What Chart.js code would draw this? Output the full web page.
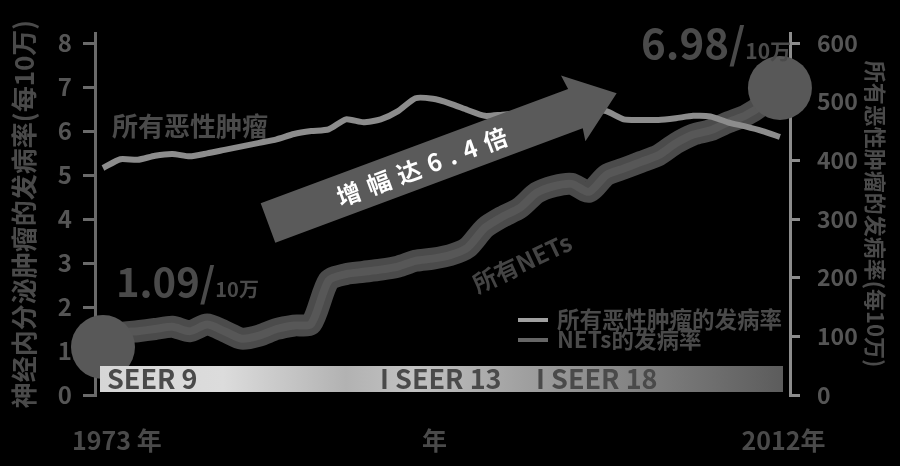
<!DOCTYPE html>
<html>
<head>
<meta charset="utf-8">
<script src="https://cdn.jsdelivr.net/npm/chart.js@4.4.1/dist/chart.umd.min.js"></script>
<style>
  html, body { margin: 0; padding: 0; background: #000; }
  #wrap { width: 900px; height: 466px; position: relative; }
</style>
</head>
<body>
<div id="wrap"><canvas id="chart"></canvas></div>
<script>
// Data
const years = [1973, 1974, 1975, 1976, 1977, 1978, 1979, 1980, 1981, 1982,
               1983, 1984, 1985, 1986, 1987, 1988, 1989, 1990, 1991, 1992,
               1993, 1994, 1995, 1996, 1997, 1998, 1999, 2000, 2001, 2002,
               2003, 2004, 2005, 2006, 2007, 2008, 2009, 2010, 2011, 2012];

// all malignant tumours, per 100k (right axis)
const malignantRate = [387, 402, 401, 408, 411, 407, 412, 418, 424, 430,
                       436, 445, 450, 453, 470, 465, 470, 484, 506, 505,
                       497, 486, 476, 478, 480, 482, 484, 486, 487, 484,
                       470, 469, 469, 472, 476, 475, 465, 458, 450, 440];

// NETs, per 100k (left axis)
const netsRate = [1.09, 1.40, 1.45, 1.50, 1.55, 1.45, 1.60, 1.45, 1.28, 1.35,
                  1.50, 1.58, 1.62, 2.60, 2.75, 2.80, 2.85, 2.92, 3.05, 3.10,
                  3.18, 3.35, 3.80, 4.05, 4.25, 4.60, 4.75, 4.80, 4.62, 5.00,
                  5.15, 5.30, 5.45, 5.72, 5.92, 6.02, 6.20, 6.35, 6.60, 6.98];

const leftTicks = [0, 1, 2, 3, 4, 5, 6, 7, 8];
const rightTicks = [0, 100, 200, 300, 400, 500, 600];
const xTickYears = [1973.8, 1992.1, 2012.2];
const xTickLabels = ["1973 年", "年", "2012年"];
const seerLabels = ["SEER 9", "I SEER 13", "I SEER 18"];
const legendLabels = ["所有恶性肿瘤的发病率", "NETs的发病率"];

const FONT = '"Noto Sans CJK SC", "Noto Sans", sans-serif';
const TEXT_GRAY = "#4a4a4a";

// markers only on first and last year
const endPointRadius = years.map((y, i) => (i === 0 || i === years.length - 1) ? 32 : 0);

const fixWidth = (w) => (scale) => { scale.width = w; };
const useTicks = (list) => (scale) => { scale.ticks = list.map(v => ({ value: v })); };

// Decorations drawn on top of the lines
const decorations = {
  id: "decorations",
  afterDatasetsDraw(chart) {
    const ctx = chart.ctx;

    // SEER band
    const bx0 = 100, bx1 = 783, by0 = 366, bh = 26;
    const grad = ctx.createLinearGradient(bx0, 0, bx1, 0);
    grad.addColorStop(0, "#d6d6d6");
    grad.addColorStop(0.18, "#dcdcdc");
    grad.addColorStop(0.36, "#b2b2b2");
    grad.addColorStop(0.46, "#c2c2c2");
    grad.addColorStop(0.62, "#a0a0a0");
    grad.addColorStop(1, "#5c5c5c");
    ctx.save();
    ctx.fillStyle = grad;
    ctx.fillRect(bx0, by0, bx1 - bx0, bh);
    ctx.fillStyle = TEXT_GRAY;
    ctx.font = "bold 27px " + FONT;
    ctx.textBaseline = "middle";
    ctx.textAlign = "left";
    ctx.fillText(seerLabels[0], 107, 379);
    ctx.fillText(seerLabels[1], 380, 379);
    ctx.fillText(seerLabels[2], 536, 379);
    ctx.restore();

    // big arrow
    ctx.save();
    ctx.translate(268, 223);
    ctx.rotate(-20.4 * Math.PI / 180);
    ctx.fillStyle = "#5a5a5a";
    ctx.beginPath();
    ctx.moveTo(0, -21);
    ctx.lineTo(328, -21);
    ctx.lineTo(326, -36);
    ctx.lineTo(372, 0);
    ctx.lineTo(326, 34);
    ctx.lineTo(328, 21);
    ctx.lineTo(0, 21);
    ctx.closePath();
    ctx.fill();
    ctx.fillStyle = "#ffffff";
    ctx.font = "bold 24px " + FONT;
    ctx.textAlign = "center";
    ctx.textBaseline = "middle";
    ctx.letterSpacing = "8px";
    ctx.fillText("增幅达6.4倍", 168, 1);
    ctx.restore();

    // labels
    ctx.save();
    ctx.fillStyle = TEXT_GRAY;
    ctx.textBaseline = "alphabetic";
    ctx.textAlign = "left";
    ctx.font = "bold 26px " + FONT;
    ctx.fillText("所有恶性肿瘤", 112, 136);

    ctx.font = "bold 40px " + FONT;
    ctx.fillText("1.09/", 116, 297);
    let w = ctx.measureText("1.09/").width;
    ctx.font = "bold 20px " + FONT;
    ctx.fillText("10万", 116 + w, 297);

    ctx.font = "bold 42px " + FONT;
    ctx.fillText("6.98/", 641, 59);
    w = ctx.measureText("6.98/").width;
    ctx.font = "bold 21px " + FONT;
    ctx.fillText("10万", 641 + w, 59);
    ctx.restore();

    ctx.save();
    ctx.translate(522, 263);
    ctx.rotate(-25 * Math.PI / 180);
    ctx.fillStyle = "#444444";
    ctx.font = "bold 24px " + FONT;
    ctx.textAlign = "center";
    ctx.textBaseline = "middle";
    ctx.fillText("所有NETs", 0, 0);
    ctx.restore();

    // legend
    const swatch = ["#a0a0a0", "#666666"];
    const rows = [320, 340];
    ctx.save();
    ctx.font = "bold 22.5px " + FONT;
    ctx.textBaseline = "middle";
    ctx.textAlign = "left";
    rows.forEach((yy, i) => {
      ctx.strokeStyle = swatch[i];
      ctx.lineWidth = 4;
      ctx.beginPath();
      ctx.moveTo(518, yy);
      ctx.lineTo(548, yy);
      ctx.stroke();
      ctx.fillStyle = TEXT_GRAY;
      ctx.fillText(legendLabels[i], 557, yy - 1);
    });
    ctx.restore();
  }
};

const ctx = document.getElementById("chart");

new Chart(ctx, {
  type: "line",
  data: {
    labels: years,
    datasets: [
      {
        label: legendLabels[0],
        data: malignantRate,
        yAxisID: "yRight",
        borderColor: "#8c8c8c",
        borderWidth: 6,
        pointRadius: 0,
        tension: 0.2,
        clip: false
      },
      {
        label: legendLabels[1],
        data: netsRate,
        yAxisID: "yLeft",
        borderColor: "#575757",
        borderWidth: 8,
        pointRadius: endPointRadius,
        pointBackgroundColor: "#585858",
        pointBorderWidth: 0,
        pointHoverRadius: endPointRadius,
        tension: 0.25,
        clip: false
      },
      {
        label: "band",
        data: netsRate,
        yAxisID: "yLeft",
        borderColor: "#4b4b4b",
        borderWidth: 22,
        borderCapStyle: "round",
        pointRadius: 0,
        tension: 0.25,
        clip: false
      }
    ]
  },
  options: {
    responsive: true,
    maintainAspectRatio: false,
    animation: false,
    layout: { padding: { top: 33, left: 9, right: 11, bottom: 0 } },
    plugins: {
      legend: { display: false },
      tooltip: { enabled: false }
    },
    scales: {
      x: {
        type: "linear",
        min: 1972.54,
        max: 2012.58,
        grid: { display: false },
        border: { display: false },
        afterBuildTicks: useTicks(xTickYears),
        afterFit: (scale) => { scale.height = 71; },
        ticks: {
          autoSkip: false,
          maxRotation: 0,
          padding: 22,
          color: TEXT_GRAY,
          font: { family: FONT, size: 25, weight: "bold" },
          callback: (v) => {
            const i = xTickYears.indexOf(v);
            return i >= 0 ? xTickLabels[i] : "";
          }
        }
      },
      yLeft: {
        type: "linear",
        position: "left",
        min: 0,
        max: 8.23,
        z: 1,
        afterBuildTicks: useTicks(leftTicks),
        afterFit: fixWidth(86),
        ticks: {
          padding: 11,
          color: "#555555",
          font: { family: FONT, size: 24, weight: "bold" }
        },
        grid: { drawOnChartArea: false, drawTicks: true, tickLength: 12, color: "#6a6a6a", lineWidth: 3 },
        border: { color: "#6a6a6a", width: 3 },
        title: {
          display: true,
          text: "神经内分泌肿瘤的发病率(每10万)",
          color: TEXT_GRAY,
          padding: 0,
          font: { family: FONT, size: 26, weight: "bold", lineHeight: 1.2 }
        }
      },
      yRight: {
        type: "linear",
        position: "right",
        min: 0,
        max: 617.25,
        z: 1,
        afterBuildTicks: useTicks(rightTicks),
        afterFit: fixWidth(99),
        ticks: {
          padding: 17,
          color: "#555555",
          font: { family: FONT, size: 23, weight: "bold" }
        },
        grid: { drawOnChartArea: false, drawTicks: true, tickLength: 10, color: "#8c8c8c", lineWidth: 3 },
        border: { color: "#8c8c8c", width: 3 },
        title: {
          display: true,
          text: "所有恶性肿瘤的发病率(每10万)",
          color: TEXT_GRAY,
          padding: 0,
          font: { family: FONT, size: 22, weight: "bold", lineHeight: 1.2 }
        }
      }
    }
  },
  plugins: [decorations]
});
</script>
</body>
</html>
